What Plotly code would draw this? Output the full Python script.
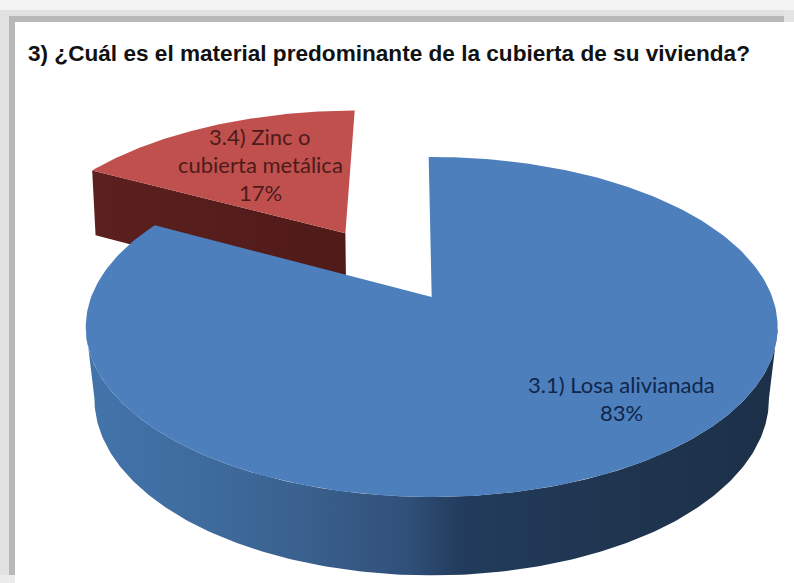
import numpy as np
import plotly.graph_objects as go

# ---- chart data ----
categories = ["3.1) Losa alivianada", "3.4) Zinc o cubierta metálica"]
values = [83, 17]
title_text = "3) ¿Cuál es el material predominante de la cubierta de su vivienda?"
label_lines = [["3.1) Losa alivianada", "83%"], ["3.4) Zinc o", "cubierta metálica", "17%"]]
pulls = [0.0, 0.497]

# ---- styling / projection parameters ----
W, H = 794, 583
CX, CY, R = 431.7, 297, 340.5
PERSP, PERSP_B = 0.1765, 112.3
DEPTH, DEPTH_P = 70.5, 0.1
BOTTOM_SHRINK = [0.975, 0.99]
PULL_DIR_OFFSET = 2.0
START = 90.6
top_colors = ["#4c7fbc", "#c0504d"]
wall_scales = [
    [[0, "#4274ab"], [0.18, "#3e6b9d"], [0.33, "#3a5f8c"], [0.47, "#2f4f78"],
     [0.54, "#223c5d"], [0.75, "#203550"], [1, "#1c3048"]],
    [[0, "#5c201e"], [1, "#4f1a18"]],
]
text_colors = ["#10264a", "#4d1b1a"]
label_anchor = [(621, 384), (260, 136)]
line_gap = 28


def project(u, v):
    d = 1 + PERSP * v
    return CX + R * u / d, (CY - PERSP_B * v) / d


def depth(v):
    return DEPTH / (1 + DEPTH_P * v)


def lower(x, y, v, shrink):
    return CX + (x - CX) * shrink, y + depth(v)


def rim(a0, a1, ox, oy, n=240):
    t = np.radians(np.linspace(a0, a1, n))
    u, v = ox + np.cos(t), oy + np.sin(t)
    x, y = project(u, v)
    return x, y, v


shares = np.array(values) / sum(values) * 360
ends = START - np.cumsum(shares)
starts = ends + shares
mids = (starts + ends) / 2

fig = go.Figure()
no_line = dict(width=0, color="rgba(0,0,0,0)")

# pulled wedge first (behind the main wedge)
for i in [1, 0]:
    direction = np.radians(mids[i] + PULL_DIR_OFFSET)
    ox = pulls[i] * np.cos(direction)
    oy = pulls[i] * np.sin(direction)
    ax, ay = project(ox, oy)
    shrink = BOTTOM_SHRINK[i]
    if pulls[i] > 0:
        # front-facing cut wall, from the apex to the left end of the rim
        x1, y1, v1 = rim(starts[i], starts[i], ox, oy, 2)
        bx0, by0 = lower(ax, ay, oy, shrink)
        bx1, by1 = lower(x1[0], y1[0], v1[0], shrink)
        fig.add_trace(go.Scatter(
            x=[ax, x1[0], bx1, bx0, ax], y=[ay, y1[0], by1, by0, ay],
            mode="lines", fill="toself", line=no_line, hoverinfo="skip",
            fillgradient=dict(type="horizontal", colorscale=wall_scales[i])))
    else:
        # curved outer wall, between the two silhouette tangents
        vis0, vis1 = max(ends[i], -170), min(starts[i], -10)
        x, y, v = rim(vis0, vis1, ox, oy)
        bx, by = lower(x, y, v, shrink)
        fig.add_trace(go.Scatter(
            x=np.r_[x, bx[::-1], x[0]], y=np.r_[y, by[::-1], y[0]],
            mode="lines", fill="toself", line=no_line, hoverinfo="skip",
            fillgradient=dict(type="horizontal", colorscale=wall_scales[i])))
    x, y, _ = rim(ends[i], starts[i], ox, oy)
    fig.add_trace(go.Scatter(
        x=np.r_[ax, x, ax], y=np.r_[ay, y, ay],
        mode="lines", fill="toself", fillcolor=top_colors[i], line=no_line,
        hoverinfo="skip", name=categories[i]))

annotations = [dict(
    text=f"<b>{title_text}</b>", x=389, y=53.5, xref="x", yref="y", showarrow=False,
    font=dict(family="Liberation Sans, Arial", size=22.6, color="#111111"))]
for i, lines in enumerate(label_lines):
    for j, line in enumerate(lines):
        annotations.append(dict(
            text=line, x=label_anchor[i][0], y=label_anchor[i][1] + j * line_gap,
            xref="x", yref="y", showarrow=False,
            font=dict(family="Lato, Carlito, sans-serif", size=22, color=text_colors[i])))

# page frame behind the chart
frame = [
    (0, 0, 794, 583, "#f4f4f4"),
    (0, 10, 794, 583, "#e2e2e2"),
    (9, 16, 794, 583, "#b8b8b8"),
    (0, 575, 15, 583, "#ececec"),
    (784, 10, 794, 22, "#e4e4e4"),
    (15, 22, 794, 583, "#ffffff"),
]
shapes = [dict(type="rect", xref="x", yref="y", x0=a, y0=b, x1=c, y1=d,
               fillcolor=col, line=dict(width=0), layer="below")
          for a, b, c, d, col in frame]

fig.update_layout(
    width=W, height=H, margin=dict(l=0, r=0, t=0, b=0),
    paper_bgcolor="white", plot_bgcolor="white", showlegend=False,
    xaxis=dict(range=[0, W], visible=False, fixedrange=True),
    yaxis=dict(range=[H, 0], visible=False, fixedrange=True),
    shapes=shapes, annotations=annotations,
)
fig.write_html("out.html", config=dict(displayModeBar=False),
               post_script="document.body.style.margin='0';")
